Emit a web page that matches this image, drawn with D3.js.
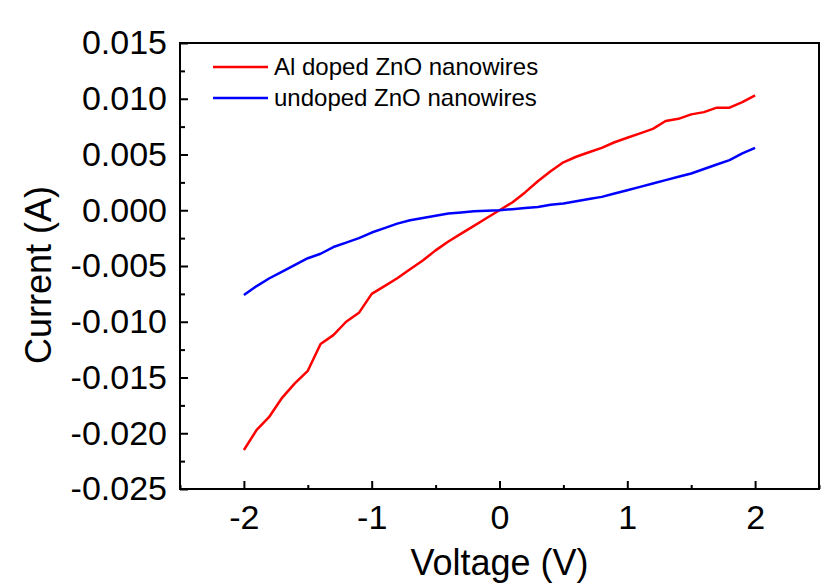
<!DOCTYPE html>
<html>
<head>
<meta charset="utf-8">
<script src="https://cdn.jsdelivr.net/npm/d3@7"></script>
<style>
  html, body { margin: 0; padding: 0; background: #fff; }
  svg { display: block; }
  text { font-family: "Liberation Sans", Arial, sans-serif; fill: #000; }
</style>
</head>
<body>
<svg id="chart" width="829" height="588"></svg>
<script>
// Voltage sweep (V)
const voltage = [
  -2.0, -1.9, -1.8, -1.7, -1.6, -1.5, -1.4, -1.3, -1.2, -1.1,
  -1.0, -0.9, -0.8, -0.7, -0.6, -0.5, -0.4, -0.3, -0.2, -0.1,
   0.0,  0.1,  0.2,  0.3,  0.4,  0.5,  0.6,  0.7,  0.8,  0.9,
   1.0,  1.1,  1.2,  1.3,  1.4,  1.5,  1.6,  1.7,  1.8,  1.9, 2.0
];

// Current (A), Al doped ZnO nanowires
const alDoped = [
  -0.0215, -0.0197, -0.0185, -0.0168, -0.0155, -0.0144, -0.0120, -0.0112, -0.0100, -0.0092,
  -0.0075, -0.0068, -0.0061, -0.0053, -0.0045, -0.0036, -0.0028, -0.0021, -0.0014, -0.0007,
   0.0000,  0.0007,  0.0016,  0.0026,  0.0035,  0.0043,  0.0048,  0.0052,  0.0056,  0.0061,
   0.0065,  0.0069,  0.0073,  0.0080,  0.0082,  0.0086,  0.0088,  0.0092,  0.0092,  0.0097, 0.0103
];

// Current (A), undoped ZnO nanowires
const undoped = [
  -0.0076, -0.0068, -0.0061, -0.0055, -0.0049, -0.0043, -0.0039, -0.0033, -0.0029, -0.0025,
  -0.0020, -0.0016, -0.0012, -0.0009, -0.0007, -0.0005, -0.0003, -0.0002, -0.0001, -0.00005,
   0.0000,  0.0001,  0.0002,  0.0003,  0.0005,  0.0006,  0.0008,  0.0010,  0.0012,  0.0015,
   0.0018,  0.0021,  0.0024,  0.0027,  0.0030,  0.0033,  0.0037,  0.0041,  0.0045,  0.0051, 0.0056
];

const seriesNames = ["Al doped ZnO nanowires", "undoped ZnO nanowires"];
const seriesColors = ["#ff0000", "#0000ff"];

const xTicks = [-2, -1, 0, 1, 2];
const xMinorTicks = [-2.5, -1.5, -0.5, 0.5, 1.5, 2.5];
const yTicks = [-0.025, -0.020, -0.015, -0.010, -0.005, 0.000, 0.005, 0.010, 0.015];
const yMinorTicks = [-0.0225, -0.0175, -0.0125, -0.0075, -0.0025, 0.0025, 0.0075, 0.0125];

const xTitle = "Voltage (V)";
const yTitle = "Current (A)";

// Layout
const plot = { left: 180, top: 43, right: 819, bottom: 489 };

const svg = d3.select("#chart");

const x = d3.scaleLinear().domain([-2.5, 2.5]).range([plot.left, plot.right]);
const y = d3.scaleLinear().domain([-0.025, 0.015]).range([plot.bottom, plot.top]);

const fmtY = v => d3.format(".3f")(v).replace("\u2212", "-");
const fmtX = v => d3.format("d")(v).replace("\u2212", "-");

// Data lines
const series = [alDoped, undoped];
const line = d3.line()
  .x(d => x(d[0]))
  .y(d => y(d[1]));

svg.append("g").selectAll("path")
  .data(series)
  .join("path")
  .attr("fill", "none")
  .attr("stroke", (d, i) => seriesColors[i])
  .attr("stroke-width", 2.5)
  .attr("stroke-linejoin", "round")
  .attr("d", vals => line(voltage.map((v, i) => [v, vals[i]])));

// Axes: ticks point into the plot area
const styleAxis = g => {
  g.select(".domain").remove();
  g.selectAll(".tick line").attr("stroke", "#000").attr("stroke-width", 2);
};

svg.append("g")
  .attr("transform", `translate(0,${plot.bottom})`)
  .call(d3.axisBottom(x).tickValues(xTicks).tickSize(0).tickPadding(16).tickFormat(fmtX))
  .call(styleAxis)
  .call(g => g.selectAll(".tick line").attr("y2", -8))
  .call(g => g.selectAll("text").attr("font-size", 34).attr("font-family", "Liberation Sans, Arial, sans-serif"));

svg.append("g")
  .attr("transform", `translate(0,${plot.bottom})`)
  .call(d3.axisBottom(x).tickValues(xMinorTicks).tickSize(0).tickFormat(""))
  .call(styleAxis)
  .call(g => g.selectAll(".tick line").attr("y2", -4));

svg.append("g")
  .attr("transform", `translate(${plot.left},0)`)
  .call(d3.axisLeft(y).tickValues(yTicks).tickSize(0).tickPadding(13).tickFormat(fmtY))
  .call(styleAxis)
  .call(g => g.selectAll(".tick line").attr("x2", 8))
  .call(g => g.selectAll("text").attr("font-size", 34).attr("font-family", "Liberation Sans, Arial, sans-serif"));

svg.append("g")
  .attr("transform", `translate(${plot.left},0)`)
  .call(d3.axisLeft(y).tickValues(yMinorTicks).tickSize(0).tickFormat(""))
  .call(styleAxis)
  .call(g => g.selectAll(".tick line").attr("x2", 5));

// Frame
svg.append("rect")
  .attr("x", plot.left)
  .attr("y", plot.top)
  .attr("width", plot.right - plot.left)
  .attr("height", plot.bottom - plot.top)
  .attr("fill", "none")
  .attr("stroke", "#000")
  .attr("stroke-width", 2);

// Axis titles
svg.append("text")
  .attr("x", (plot.left + plot.right) / 2)
  .attr("y", 575)
  .attr("text-anchor", "middle")
  .attr("font-size", 36)
  .text(xTitle);

svg.append("text")
  .attr("transform", `translate(51,275) rotate(-90)`)
  .attr("text-anchor", "middle")
  .attr("font-size", 36)
  .text(yTitle);

// Legend
const legend = svg.append("g");
const legendRows = legend.selectAll("g")
  .data(seriesNames)
  .join("g")
  .attr("transform", (d, i) => `translate(213,${67 + i * 31})`);

legendRows.append("line")
  .attr("x1", 0).attr("x2", 55)
  .attr("y1", 0).attr("y2", 0)
  .attr("stroke", (d, i) => seriesColors[i])
  .attr("stroke-width", 2.5);

legendRows.append("text")
  .attr("x", 61)
  .attr("y", 8)
  .attr("font-size", 24)
  .text(d => d);
</script>
</body>
</html>
